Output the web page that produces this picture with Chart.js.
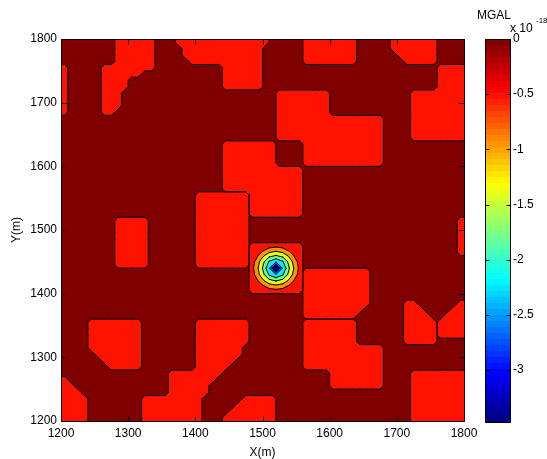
<!DOCTYPE html>
<html>
<head>
<meta charset="utf-8">
<script src="https://cdn.jsdelivr.net/npm/chart.js@4.4.1/dist/chart.umd.min.js"></script>
<style>
  html, body { margin: 0; padding: 0; background: #fff; }
  #wrap { position: relative; width: 547px; height: 459px; }
  #main { position: absolute; left: 0; top: 0; }
  #bar { position: absolute; left: 470px; top: 0; }
</style>
</head>
<body>
<div id="wrap">
  <canvas id="main" width="547" height="459"></canvas>
  <canvas id="bar" width="77" height="459"></canvas>
</div>
<script>
// axes
const xTicks = [1200, 1300, 1400, 1500, 1600, 1700, 1800];
const yTicks = [1200, 1300, 1400, 1500, 1600, 1700, 1800];
const cbTicks = [0, -0.5, -1, -1.5, -2, -2.5, -3];
const cbRange = [-3.48, 0];          // x 10^-18 MGAL

// contour levels (x 10^-18)
const levels = [-3.13, -2.68, -2.24, -1.81, -1.39, -0.94, -0.5, -0.05];

// 10 m cells, top row = 1800..1790, first column = 1200..1210
// '.' = 0, letters = separate weak anomaly patches
const cellSize = 10;
const patchValue = -0.1;
const cellMap = [
  "........BB BBBB...CCC CCCCCCCCCC C.....DDDD DDDD.....E EEEEEE....",
  "........BB BBBB....CC CCCCCCCCCC ......DDDD DDDD.....E EEEEEE....",
  "........BB BBBB....CC CCCCCCCCCC ......DDDD DDDD...... EEEEEE....",
  "........BB BBBB.....C CCCCCCCCCC ......DDDD DDDD...... .EEEEE....",
  "A.....BBBB BBBB...... ....CCCCCC .......... .......... ......FFFF",
  "A.....BBBB BB........ ....CCCCCC .......... .......... ......FFFF",
  "A.....BBBB .......... ....CCCCCC .......... .......... ......FFFF",
  "A.....BBBB .......... ....CCCCCC .......... .......... ......FFFF",
  "A.....BBB. .......... .......... ..GGGGGGGG .......... ..FFFFFFFF",
  "A.....BBB. .......... .......... ..GGGGGGGG .......... ..FFFFFFFF",
  "A.....BBB. .......... .......... ..GGGGGGGG .......... ..FFFFFFFF",
  "A.....BB.. .......... .......... ..GGGGGGGG .......... ..FFFFFFFF",
  ".......... .......... .......... ..GGGGGGGG GGGGGGGG.. ..FFFFFFFF",
  ".......... .......... .......... ..GGGGGGGG GGGGGGGG.. ..FFFFFFFF",
  ".......... .......... .......... ..GGGGGGGG GGGGGGGG.. ..FFFFFFFF",
  ".......... .......... .......... ..GGGGGGGG GGGGGGGG.. ..FFFFFFFF",
  ".......... .......... ....HHHHHH HH....GGGG GGGGGGGG.. ..........",
  ".......... .......... ....HHHHHH HH....GGGG GGGGGGGG.. ..........",
  ".......... .......... ....HHHHHH HH....GGGG GGGGGGGG.. ..........",
  ".......... .......... ....HHHHHH HH....GGGG GGGGGGGG.. ..........",
  ".......... .......... ....HHHHHH HHHHHH.... .......... ..........",
  ".......... .......... ....HHHHHH HHHHHH.... .......... ..........",
  ".......... .......... ....HHHHHH HHHHHH.... .......... ..........",
  ".......... .......... ....HHHHHH HHHHHH.... .......... ..........",
  ".......... .......... IIIIIIIIHH HHHHHH.... .......... ..........",
  ".......... .......... IIIIIIIIHH HHHHHH.... .......... ..........",
  ".......... .......... IIIIIIIIHH HHHHHH.... .......... ..........",
  ".......... .......... IIIIIIIIHH HHHHHH.... .......... ..........",
  "........JJ JJJ....... IIIIIIII.. .......... .......... .........K",
  "........JJ JJJ....... IIIIIIII.. .......... .......... .........K",
  "........JJ JJJ....... IIIIIIII.. .......... .......... .........K",
  "........JJ JJJ....... IIIIIIII.. .......... .......... .........K",
  "........JJ JJJ....... IIIIIIIILL LLLLLL.... .......... .........K",
  "........JJ JJJ....... IIIIIIIILL LLLLLL.... .......... .........K",
  "........JJ JJJ....... IIIIIIIILL LLLLLL.... .......... ..........",
  "........JJ JJJ....... IIIIIIIILL LLLLLL.... .......... ..........",
  ".......... .......... ........LL LLLLLLMMMM MMMMMM.... ..........",
  ".......... .......... ........LL LLLLLLMMMM MMMMMM.... ..........",
  ".......... .......... ........LL LLLLLLMMMM MMMMMM.... ..........",
  ".......... .......... ........LL LLLLLLMMMM MMMMMM.... ..........",
  ".......... .......... .......... ......MMMM MMMMMM.... ..........",
  ".......... .......... .......... ......MMMM MMMMMM.... .NN......O",
  ".......... .......... .......... ......MMMM MMMMM..... .NNN....OO",
  ".......... .......... .......... ......MMMM MMMM...... .NNNN..OOO",
  "....PPPPPP PP........ QQQQQQQQ.. ......TTTT TTTT...... .NNNNNOOOO",
  "....PPPPPP PP........ QQQQQQQQ.. ......TTTT TTTT...... .NNNNNOOOO",
  "....PPPPPP PP........ QQQQQQQQ.. ......TTTT TTTT...... .NNNNNOOOO",
  "....PPPPPP PP........ QQQQQQQQ.. ......TTTT TTTT...... .NNNNN....",
  "....PPPPPP PP........ QQQQQQQ... ......TTTT TTTTTTTT.. ..........",
  ".....PPPPP PP........ QQQQQQQ... ......TTTT TTTTTTTT.. ..........",
  "......PPPP PP........ QQQQQQ.... ......TTTT TTTTTTTT.. ..........",
  ".......PPP PP........ QQQQQ..... ......TTTT TTTTTTTT.. ..........",
  ".......... ......QQQQ QQQQ...... .......... TTTTTTTT.. ..UUUUUUUU",
  "S......... ......QQQQ QQQ....... .......... TTTTTTTT.. ..UUUUUUUU",
  "SS........ ......QQQQ QQ........ .......... TTTTTTTT.. ..UUUUUUUU",
  "SSS....... ......QQQQ QQ........ .......... .......... ..UUUUUUUU",
  "SSSS...... ..QQQQQQQQ Q......RRR RR........ .......... ..UUUUUUUU",
  "SSSS...... ..QQQQQQQQ Q.....RRRR RR........ .......... ..UUUUUUUU",
  "SSSS...... ..QQQQQQQQ Q....RRRRR RR........ .......... ..UUUUUUUU",
  "SSSS...... ..QQQQQQQQ Q...RRRRRR RR........ .......... ..UUUUUUUU"
];

// point anomaly, node values (x 10^-18) on a 10 m grid
const blobX = [1480, 1490, 1500, 1510, 1520, 1530, 1540, 1550, 1560];
const blobY = [1480, 1470, 1460, 1450, 1440, 1430, 1420, 1410, 1400];
const blobValues = [
  [-0.1, -0.1,  -0.1,  -0.1,  -0.1,  -0.1,  -0.1,  -0.1,  -0.1],
  [-0.1, -0.1,  -0.33, -0.59, -0.69, -0.59, -0.33, -0.1,  -0.1],
  [-0.1, -0.33, -0.81, -1.23, -1.4,  -1.23, -0.81, -0.33, -0.1],
  [-0.1, -0.59, -1.23, -1.87, -2.2,  -1.87, -1.23, -0.59, -0.1],
  [-0.1, -0.69, -1.4,  -2.2,  -3.48, -2.2,  -1.4,  -0.69, -0.1],
  [-0.1, -0.59, -1.23, -1.87, -2.2,  -1.87, -1.23, -0.59, -0.1],
  [-0.1, -0.33, -0.81, -1.23, -1.4,  -1.23, -0.81, -0.33, -0.1],
  [-0.1, -0.1,  -0.33, -0.59, -0.69, -0.59, -0.33, -0.1,  -0.1],
  [-0.1, -0.1,  -0.1,  -0.1,  -0.1,  -0.1,  -0.1,  -0.1,  -0.1]
];

const FONT = "'Liberation Sans', Arial, Helvetica, sans-serif";
Chart.defaults.font.family = FONT;
Chart.defaults.font.size = 12;
Chart.defaults.color = '#000';

const cellRows = cellMap.map(s => s.replace(/ /g, ''));
const nRows = cellRows.length, nCols = cellRows[0].length;
const patchIds = [...new Set(cellRows.join('').replace(/\./g, ''))];

// nodes at cell centres, padded with the plot edges
const nodeX = [xTicks[0]], nodeY = [yTicks[yTicks.length - 1]];
for (let c = 0; c < nCols; c++) nodeX.push(xTicks[0] + (c + 0.5) * cellSize);
for (let r = 0; r < nRows; r++) nodeY.push(yTicks[yTicks.length - 1] - (r + 0.5) * cellSize);
nodeX.push(xTicks[xTicks.length - 1]);
nodeY.push(yTicks[0]);
const clamp = (v, lo, hi) => Math.min(hi, Math.max(lo, v));
const cellAt = (i, j) => cellRows[clamp(j - 1, 0, nRows - 1)][clamp(i - 1, 0, nCols - 1)];

function jet(t) {
  t = clamp(t, 0, 1);
  const ch = c => Math.round(255 * clamp(1.5 - Math.abs(4 * t - c), 0, 1));
  return `rgb(${ch(3)},${ch(2)},${ch(1)})`;
}
const colorAt = v => jet((v - cbRange[0]) / (cbRange[1] - cbRange[0]));

// marching squares: region value <= level, one polygon per grid cell
function contour(xs, ys, valueAt, level, px, py) {
  const polys = [], segs = [];
  for (let j = 0; j < ys.length - 1; j++) {
    for (let i = 0; i < xs.length - 1; i++) {
      const cs = [[i, j], [i + 1, j], [i + 1, j + 1], [i, j + 1]];
      const v = cs.map(([a, b]) => valueAt(a, b));
      const inside = v.map(z => z <= level);
      if (!inside.some(Boolean)) continue;
      const poly = [];
      for (let k = 0; k < 4; k++) {
        const n = (k + 1) % 4;
        const [a0, b0] = cs[k], [a1, b1] = cs[n];
        if (inside[k]) poly.push({ x: px(xs[a0]), y: py(ys[b0]), edge: false });
        if (inside[k] !== inside[n]) {
          const t = (level - v[k]) / (v[n] - v[k]);
          poly.push({
            x: px(xs[a0] + t * (xs[a1] - xs[a0])),
            y: py(ys[b0] + t * (ys[b1] - ys[b0])),
            edge: true
          });
        }
      }
      polys.push(poly);
      for (let k = 0; k < poly.length; k++) {
        const p = poly[k], q = poly[(k + 1) % poly.length];
        if (p.edge && q.edge) segs.push([p, q]);
      }
    }
  }
  return { polys, segs };
}

function fillPolys(ctx, polys, color) {
  ctx.beginPath();
  polys.forEach(p => {
    ctx.moveTo(p[0].x, p[0].y);
    for (let k = 1; k < p.length; k++) ctx.lineTo(p[k].x, p[k].y);
    ctx.closePath();
  });
  ctx.fillStyle = color;
  ctx.fill();
}

function strokeSegs(ctx, segs) {
  ctx.beginPath();
  segs.forEach(([p, q]) => { ctx.moveTo(p.x, p.y); ctx.lineTo(q.x, q.y); });
  ctx.strokeStyle = '#000';
  ctx.lineWidth = 1;
  ctx.lineCap = 'round';
  ctx.stroke();
}

const contourPlugin = {
  id: 'contourFill',
  beforeDatasetsDraw(chart) {
    const { ctx, chartArea: a, scales: { x, y } } = chart;
    const px = v => x.getPixelForValue(v);
    const py = v => y.getPixelForValue(v);
    ctx.save();
    ctx.beginPath();
    ctx.rect(a.left, a.top, a.right - a.left, a.bottom - a.top);
    ctx.clip();
    ctx.fillStyle = colorAt(cbRange[1]);
    ctx.fillRect(a.left, a.top, a.right - a.left, a.bottom - a.top);

    const top = levels.length - 1;
    const lines = [];
    patchIds.forEach(id => {
      const res = contour(nodeX, nodeY, (i, j) => cellAt(i, j) === id ? patchValue : 0, levels[top], px, py);
      fillPolys(ctx, res.polys, colorAt(levels[top - 1]));
      lines.push(...res.segs);
    });
    strokeSegs(ctx, lines);

    const blobLines = [];
    for (let k = top - 1; k >= 0; k--) {
      const res = contour(blobX, blobY, (i, j) => blobValues[j][i], levels[k], px, py);
      fillPolys(ctx, res.polys, colorAt(k > 0 ? levels[k - 1] : cbRange[0]));
      blobLines.push(...res.segs);
    }
    strokeSegs(ctx, blobLines);
    ctx.restore();
  }
};

// box with inward tick marks on all four sides
const framePlugin = {
  id: 'frame',
  afterDatasetsDraw(chart) {
    const { ctx, chartArea: a, scales: { x, y } } = chart;
    const l = Math.round(a.left) + 0.5, r = Math.round(a.right) + 0.5;
    const t = Math.round(a.top) + 0.5, b = Math.round(a.bottom) + 0.5;
    const len = 5;
    ctx.save();
    ctx.strokeStyle = '#000';
    ctx.lineWidth = 1;
    ctx.beginPath();
    ctx.rect(l, t, r - l, b - t);
    xTicks.forEach(v => {
      const p = Math.round(x.getPixelForValue(v)) + 0.5;
      ctx.moveTo(p, b); ctx.lineTo(p, b - len);
      ctx.moveTo(p, t); ctx.lineTo(p, t + len);
    });
    yTicks.forEach(v => {
      const p = Math.round(y.getPixelForValue(v)) + 0.5;
      ctx.moveTo(l, p); ctx.lineTo(l + len, p);
      ctx.moveTo(r, p); ctx.lineTo(r - len, p);
    });
    ctx.stroke();
    ctx.restore();
  }
};

new Chart(document.getElementById('main'), {
  type: 'scatter',
  data: { datasets: [] },
  options: {
    responsive: false,
    animation: false,
    devicePixelRatio: 1,
    layout: { padding: { left: 0, top: 39, right: 83, bottom: 0 } },
    plugins: { legend: { display: false }, tooltip: { enabled: false } },
    scales: {
      x: {
        type: 'linear', min: 1200, max: 1800,
        afterBuildTicks: s => { s.ticks = xTicks.map(v => ({ value: v })); },
        afterFit: s => { s.height = 38; s.paddingLeft = 0; s.paddingRight = 0; },
        grid: { display: false, drawTicks: false },
        border: { display: false },
        ticks: { padding: 5, maxRotation: 0, autoSkip: false, callback: v => String(v) },
        title: { display: true, text: 'X(m)', font: { size: 12, lineHeight: 1 }, padding: { top: 0, bottom: 0 } }
      },
      y: {
        type: 'linear', min: 1200, max: 1800,
        afterBuildTicks: s => { s.ticks = yTicks.map(v => ({ value: v })); },
        afterFit: s => { s.width = 61; s.paddingTop = 0; s.paddingBottom = 0; },
        grid: { display: false, drawTicks: false },
        border: { display: false },
        ticks: { padding: 4, autoSkip: false, callback: v => String(v) },
        title: { display: true, text: 'Y(m)', font: { size: 12, lineHeight: 1 }, padding: { top: 11, bottom: 0 } }
      }
    }
  },
  plugins: [contourPlugin, framePlugin]
});

// colour bar
const colorbarPlugin = {
  id: 'colorbar',
  beforeDatasetsDraw(chart) {
    const { ctx, chartArea: a, scales: { y } } = chart;
    const steps = 64;
    const span = cbRange[1] - cbRange[0];
    for (let i = 0; i < steps; i++) {
      const y0 = Math.round(y.getPixelForValue(cbRange[0] + span * i / steps));
      const y1 = Math.round(y.getPixelForValue(cbRange[0] + span * (i + 1) / steps));
      ctx.fillStyle = jet(i / (steps - 1));
      ctx.fillRect(a.left, y1, a.right - a.left, y0 - y1);
    }
  },
  afterDraw(chart) {
    const { ctx, chartArea: a, scales: { y } } = chart;
    const l = Math.round(a.left) + 0.5, r = Math.round(a.right) - 0.5;
    const t = Math.round(a.top) + 0.5, b = Math.round(a.bottom) - 0.5;
    ctx.save();
    ctx.strokeStyle = '#000';
    ctx.lineWidth = 1;
    ctx.beginPath();
    ctx.rect(l, t, r - l, b - t);
    cbTicks.forEach(v => {
      const p = Math.round(y.getPixelForValue(v)) + 0.5;
      ctx.moveTo(l, p); ctx.lineTo(l + 4, p);
      ctx.moveTo(r, p); ctx.lineTo(r - 4, p);
    });
    ctx.stroke();
    ctx.fillStyle = '#000';
    ctx.textBaseline = 'alphabetic';
    ctx.font = `12px ${FONT}`;
    ctx.fillText('MGAL', 7, 19);
    ctx.fillText('x 10', 40, 32);
    ctx.font = `8px ${FONT}`;
    ctx.fillText('-18', 66, 23);
    ctx.restore();
  }
};

new Chart(document.getElementById('bar'), {
  type: 'scatter',
  data: { datasets: [] },
  options: {
    responsive: false,
    animation: false,
    devicePixelRatio: 1,
    layout: { padding: { left: 15, top: 39, right: 0, bottom: 36 } },
    plugins: { legend: { display: false }, tooltip: { enabled: false } },
    scales: {
      x: { display: false },
      y: {
        position: 'right',
        min: cbRange[0], max: cbRange[1],
        afterBuildTicks: s => { s.ticks = cbTicks.map(v => ({ value: v })); },
        afterFit: s => { s.width = 36; s.paddingTop = 0; s.paddingBottom = 0; },
        grid: { display: false, drawTicks: false },
        border: { display: false },
        ticks: { padding: 2, autoSkip: false, callback: v => String(v) }
      }
    }
  },
  plugins: [colorbarPlugin]
});
</script>
</body>
</html>
